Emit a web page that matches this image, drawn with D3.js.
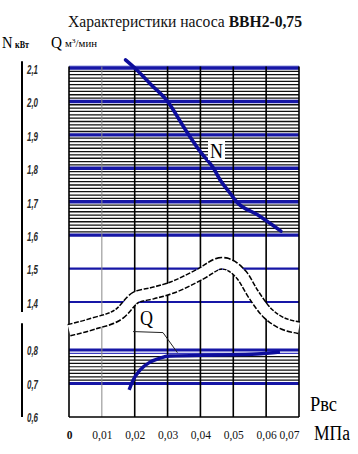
<!DOCTYPE html>
<html><head><meta charset="utf-8">
<script src="https://cdn.jsdelivr.net/npm/d3@7/dist/d3.min.js"></script>
<style>body{margin:0;background:#fff}svg{display:block}</style>
</head><body><svg id="c" width="358" height="454"></svg>
<script>
// ---------- data ----------
const pressureTicks = [0, 0.01, 0.02, 0.03, 0.04, 0.05, 0.06, 0.07];
const nTicks = [2.1, 2.0, 1.9, 1.8, 1.7, 1.6, 1.5, 1.4];
const qTicks = [0.8, 0.7, 0.6];
// N (kW) vs suction pressure
const nPressure = [0.0172, 0.020, 0.025, 0.030, 0.035, 0.040, 0.044, 0.046, 0.049, 0.051, 0.0575, 0.0645];
const nPower    = [2.124, 2.100, 2.050, 2.000, 1.922, 1.849, 1.800, 1.765, 1.726, 1.700, 1.660, 1.612];
// Q (m3/min) vs suction pressure
const qPressure = [0.0183, 0.0195, 0.0216, 0.0247, 0.0277, 0.0307, 0.0453, 0.0572, 0.0642];
const qFlow     = [0.681, 0.710, 0.740, 0.764, 0.776, 0.782, 0.785, 0.788, 0.794];
// wavy scale-break band (in N units)
const breakPressure = [0, 0.0073, 0.0155, 0.0204, 0.0253, 0.0313, 0.0399, 0.0465, 0.0526, 0.056, 0.0603, 0.0642, 0.07];
const breakLevel    = [1.3156, 1.335, 1.366, 1.414, 1.426, 1.443, 1.483, 1.516, 1.480, 1.425, 1.368, 1.340, 1.323];

// ---------- scales ----------
const svg = d3.select("#c");
const x = d3.scaleLinear().domain([0, 0.07]).range([69, 299]);
const yN = d3.scaleLinear().domain([1.4, 2.1]).range([302, 68]);
const yQ = d3.scaleLinear().domain([0.6, 0.8]).range([417, 350]);
const BLUE = "#1616a6";
const fmtY = v => d3.format(".1f")(v).replace(".", ",");
const fmtX = v => v === 0 ? "0" : d3.format(".2f")(v).replace(".", ",");

// ---------- hatching ----------
const g = svg.append("g");
const nHatch = d3.range(161, 210).filter(v => v % 10 !== 0).map(v => v / 100);
g.selectAll(".hn").data(nHatch).join("line")
  .attr("x1", x(0)).attr("x2", x(0.07))
  .attr("y1", d => yN(d)).attr("y2", d => yN(d))
  .attr("stroke", "#111").attr("stroke-width", 1.3);
const qHatch = d3.range(71, 80).map(v => v / 100);
g.selectAll(".hq").data(qHatch).join("line")
  .attr("x1", x(0)).attr("x2", x(0.07))
  .attr("y1", d => yQ(d)).attr("y2", d => yQ(d))
  .attr("stroke", d => d > 0.785 ? "#3a3ac0" : "#111").attr("stroke-width", 1.2);

// ---------- blue main lines ----------
g.append("rect").attr("x", x(0)).attr("y", yN(2.1) - 3).attr("width", x(0.07) - x(0)).attr("height", 3).attr("fill", "#c8ccee");
g.selectAll(".bn").data(nTicks).join("line")
  .attr("x1", x(0)).attr("x2", x(0.07))
  .attr("y1", d => yN(d)).attr("y2", d => yN(d))
  .attr("stroke", BLUE).attr("stroke-width", d => d >= 1.6 ? 3.4 : 2.2);
g.selectAll(".bq").data(qTicks.filter(d => d > 0.6)).join("line")
  .attr("x1", x(0)).attr("x2", x(0.07))
  .attr("y1", d => yQ(d)).attr("y2", d => yQ(d))
  .attr("stroke", BLUE).attr("stroke-width", 3.2);

// ---------- vertical grid ----------
g.selectAll(".v").data(pressureTicks).join("line")
  .attr("x1", d => x(d)).attr("x2", d => x(d))
  .attr("y1", yN(2.1) - 1.5).attr("y2", yQ(0.6))
  .attr("stroke", d => d === 0.01 ? "#888" : "#000")
  .attr("stroke-width", d => d === 0.01 ? 1 : 1.6);
g.append("line").attr("x1", x(0)).attr("x2", x(0.07)).attr("y1", yQ(0.6)).attr("y2", yQ(0.6))
  .attr("stroke", "#000").attr("stroke-width", 1.6);

// ---------- break band ----------
const bandLine = d3.line().x((d, i) => x(breakPressure[i])).y(d => yN(d)).curve(d3.curveMonotoneX);
svg.append("path").attr("d", bandLine(breakLevel)).attr("fill", "none")
  .attr("stroke", "#000").attr("stroke-width", 13).attr("stroke-dasharray", "5,1.6");
svg.append("path").attr("d", bandLine(breakLevel)).attr("fill", "none")
  .attr("stroke", "#fff").attr("stroke-width", 10);

// ---------- curves ----------
const nLine = d3.line().x((d, i) => x(nPressure[i])).y(d => yN(d)).curve(d3.curveMonotoneX);
svg.append("path").attr("d", nLine(nPower)).attr("fill", "none")
  .attr("stroke", "#0d0d9c").attr("stroke-width", 3.6).attr("stroke-linecap", "round");
const qLine = d3.line().x((d, i) => x(qPressure[i])).y(d => yQ(d)).curve(d3.curveMonotoneX);
svg.append("path").attr("d", qLine(qFlow)).attr("fill", "none")
  .attr("stroke", "#0d0d9c").attr("stroke-width", 3.4);

// Q leader line
svg.append("path")
  .attr("d", `M${x(0.0195)},${yQ(0.855)} L${x(0.0286)},${yQ(0.852)} L${x(0.033)},${yQ(0.792)}`)
  .attr("fill", "none").attr("stroke", "#222").attr("stroke-width", 1);

// curve labels
svg.append("rect").attr("x", 208).attr("y", 140).attr("width", 17).attr("height", 20).attr("fill", "#fff");
svg.append("text").attr("x", 210).attr("y", 158).attr("font-family", "Liberation Serif")
  .attr("font-size", 21).attr("textLength", 13).attr("lengthAdjust", "spacingAndGlyphs").text("N");
svg.append("text").attr("x", 140).attr("y", 325).attr("font-family", "Liberation Serif")
  .attr("font-size", 22).attr("textLength", 13).attr("lengthAdjust", "spacingAndGlyphs").text("Q");

// ---------- left axes ----------
const axisStyle = sel => {
  sel.select(".domain").remove();
  sel.selectAll("text").attr("font-family", "Liberation Sans").attr("font-style", "italic")
    .attr("font-weight", "bold").attr("font-size", 12).attr("fill", "#2a2a2a")
    .attr("textLength", 11).attr("lengthAdjust", "spacingAndGlyphs");
};
svg.append("g").attr("transform", "translate(22,1.5)")
  .call(d3.axisRight(yN).tickValues(nTicks).tickSize(0).tickPadding(5).tickFormat(fmtY)).call(axisStyle);
svg.append("g").attr("transform", "translate(22,1)")
  .call(d3.axisRight(yQ).tickValues(qTicks).tickSize(0).tickPadding(5).tickFormat(fmtY)).call(axisStyle);
svg.append("line").attr("x1", 22).attr("x2", 22).attr("y1", yN(2.12)).attr("y2", yN(1.37))
  .attr("stroke", "#000").attr("stroke-width", 2);
svg.append("line").attr("x1", 22).attr("x2", 22).attr("y1", yQ(0.88)).attr("y2", yQ(0.6))
  .attr("stroke", "#000").attr("stroke-width", 2);

// ---------- bottom axis ----------
const xa = svg.append("g").attr("transform", `translate(0,${yQ(0.6)})`)
  .call(d3.axisBottom(x).tickValues(pressureTicks).tickSize(0).tickPadding(14).tickFormat(fmtX));
xa.select(".domain").remove();
xa.selectAll("text").attr("font-family", "Liberation Serif").attr("font-size", 11.5).attr("fill", "#111")
  .attr("font-weight", d => d === 0 ? "bold" : "normal")
  .attr("text-anchor", d => d === 0.07 ? "end" : "middle");

// ---------- titles ----------
svg.append("text").attr("x", 68).attr("y", 27).attr("font-family", "Liberation Serif").attr("font-size", 16)
  .attr("textLength", 234).attr("lengthAdjust", "spacingAndGlyphs").attr("fill", "#111")
  .html('Характеристики насоса <tspan font-weight="bold">ВВН2-0,75</tspan>');
svg.append("text").attr("x", 2).attr("y", 48).attr("font-family", "Liberation Serif").attr("font-size", 17)
  .attr("textLength", 10.5).attr("lengthAdjust", "spacingAndGlyphs").text("N");
svg.append("text").attr("x", 15).attr("y", 48).attr("font-family", "Liberation Serif").attr("font-size", 10)
  .attr("font-weight", "bold").attr("textLength", 14).attr("lengthAdjust", "spacingAndGlyphs").text("кВт");
svg.append("text").attr("x", 51).attr("y", 48).attr("font-family", "Liberation Serif").attr("font-size", 17)
  .attr("textLength", 11).attr("lengthAdjust", "spacingAndGlyphs").text("Q");
svg.append("text").attr("x", 65).attr("y", 47).attr("font-family", "Liberation Serif").attr("font-size", 10)
  .attr("textLength", 32).attr("lengthAdjust", "spacingAndGlyphs").html('м<tspan dy="-4" font-size="7">3</tspan><tspan dy="4">/мин</tspan>');
svg.append("text").attr("x", 310).attr("y", 411).attr("font-family", "Liberation Serif").attr("font-size", 21)
  .attr("textLength", 27).attr("lengthAdjust", "spacingAndGlyphs").text("Рвс");
svg.append("text").attr("x", 314).attr("y", 440).attr("font-family", "Liberation Serif").attr("font-size", 20)
  .attr("textLength", 36).attr("lengthAdjust", "spacingAndGlyphs").text("МПа");
</script></body></html>
